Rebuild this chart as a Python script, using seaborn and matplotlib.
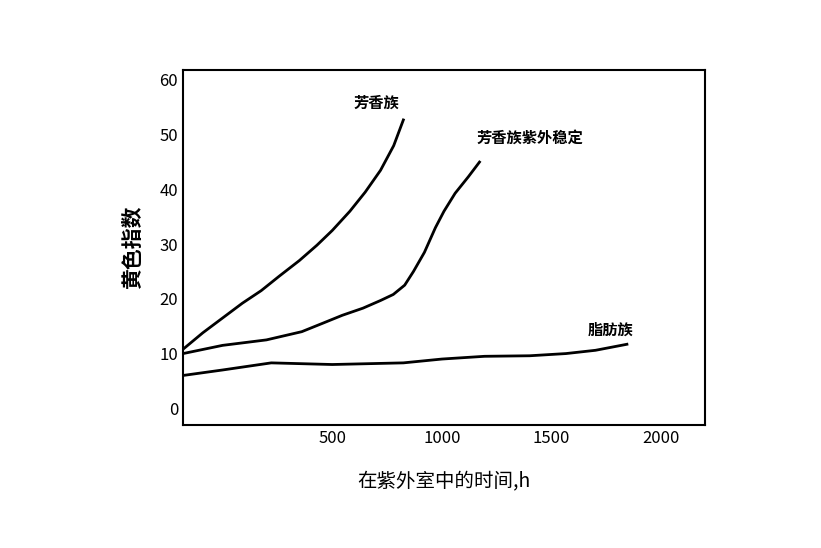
import matplotlib.pyplot as plt
import seaborn as sns
import pandas as pd

plt.rcParams['font.family'] = 'Noto Sans CJK SC'

aro_x = [-180, -90, 0, 90, 176, 260, 350, 430, 500, 580, 650, 720, 780, 824]
aro_y = [10.8, 13.8, 16.5, 19.2, 21.5, 24.2, 27, 29.8, 32.5, 36, 39.5, 43.5, 48, 52.7]
uv_x = [-180, 0, 200, 361, 460, 546, 640, 720, 778, 830, 870, 920, 970, 1009, 1060, 1120, 1171]
uv_y = [10, 11.5, 12.5, 14, 15.6, 17, 18.3, 19.7, 20.8, 22.5, 25, 28.5, 33, 36, 39.3, 42.3, 45]
ali_x = [-180, 0, 222, 500, 824, 1000, 1194, 1400, 1565, 1700, 1843]
ali_y = [6, 7, 8.3, 8.0, 8.3, 9.0, 9.5, 9.6, 10, 10.6, 11.7]

df = pd.concat([
    pd.DataFrame({'t': aro_x, 'yi': aro_y, 's': '芳香族'}),
    pd.DataFrame({'t': uv_x, 'yi': uv_y, 's': '芳香族紫外稳定'}),
    pd.DataFrame({'t': ali_x, 'yi': ali_y, 's': '脂肪族'}),
])

fig, ax = plt.subplots(figsize=(8.21, 5.48), dpi=100)
fig.subplots_adjust(left=0.223, right=0.859, top=0.872, bottom=0.225)
sns.lineplot(data=df, x='t', y='yi', hue='s', palette=['black'] * 3,
             legend=False, linewidth=2, ax=ax)

ax.set_xlim(-180, 2200)
ax.set_ylim(-3, 61.8)
ax.set_xticks([500, 1000, 1500, 2000])
ax.set_yticks(range(0, 61, 10))
ax.tick_params(length=0, labelsize=12)
for s in ax.spines.values():
    s.set_linewidth(1.5)
ax.set_xlabel('在紫外室中的时间,h', fontsize=14, labelpad=18)
ax.set_ylabel('黄色指数', fontsize=15, fontweight='bold', labelpad=12)

ax.text(700, 55, '芳香族', fontsize=11, fontweight='bold', ha='center')
ax.text(1400, 48.5, '芳香族紫外稳定', fontsize=11, fontweight='bold', ha='center')
ax.text(1770, 13.5, '脂肪族', fontsize=11, fontweight='bold', ha='center')

fig.savefig('out.png')
